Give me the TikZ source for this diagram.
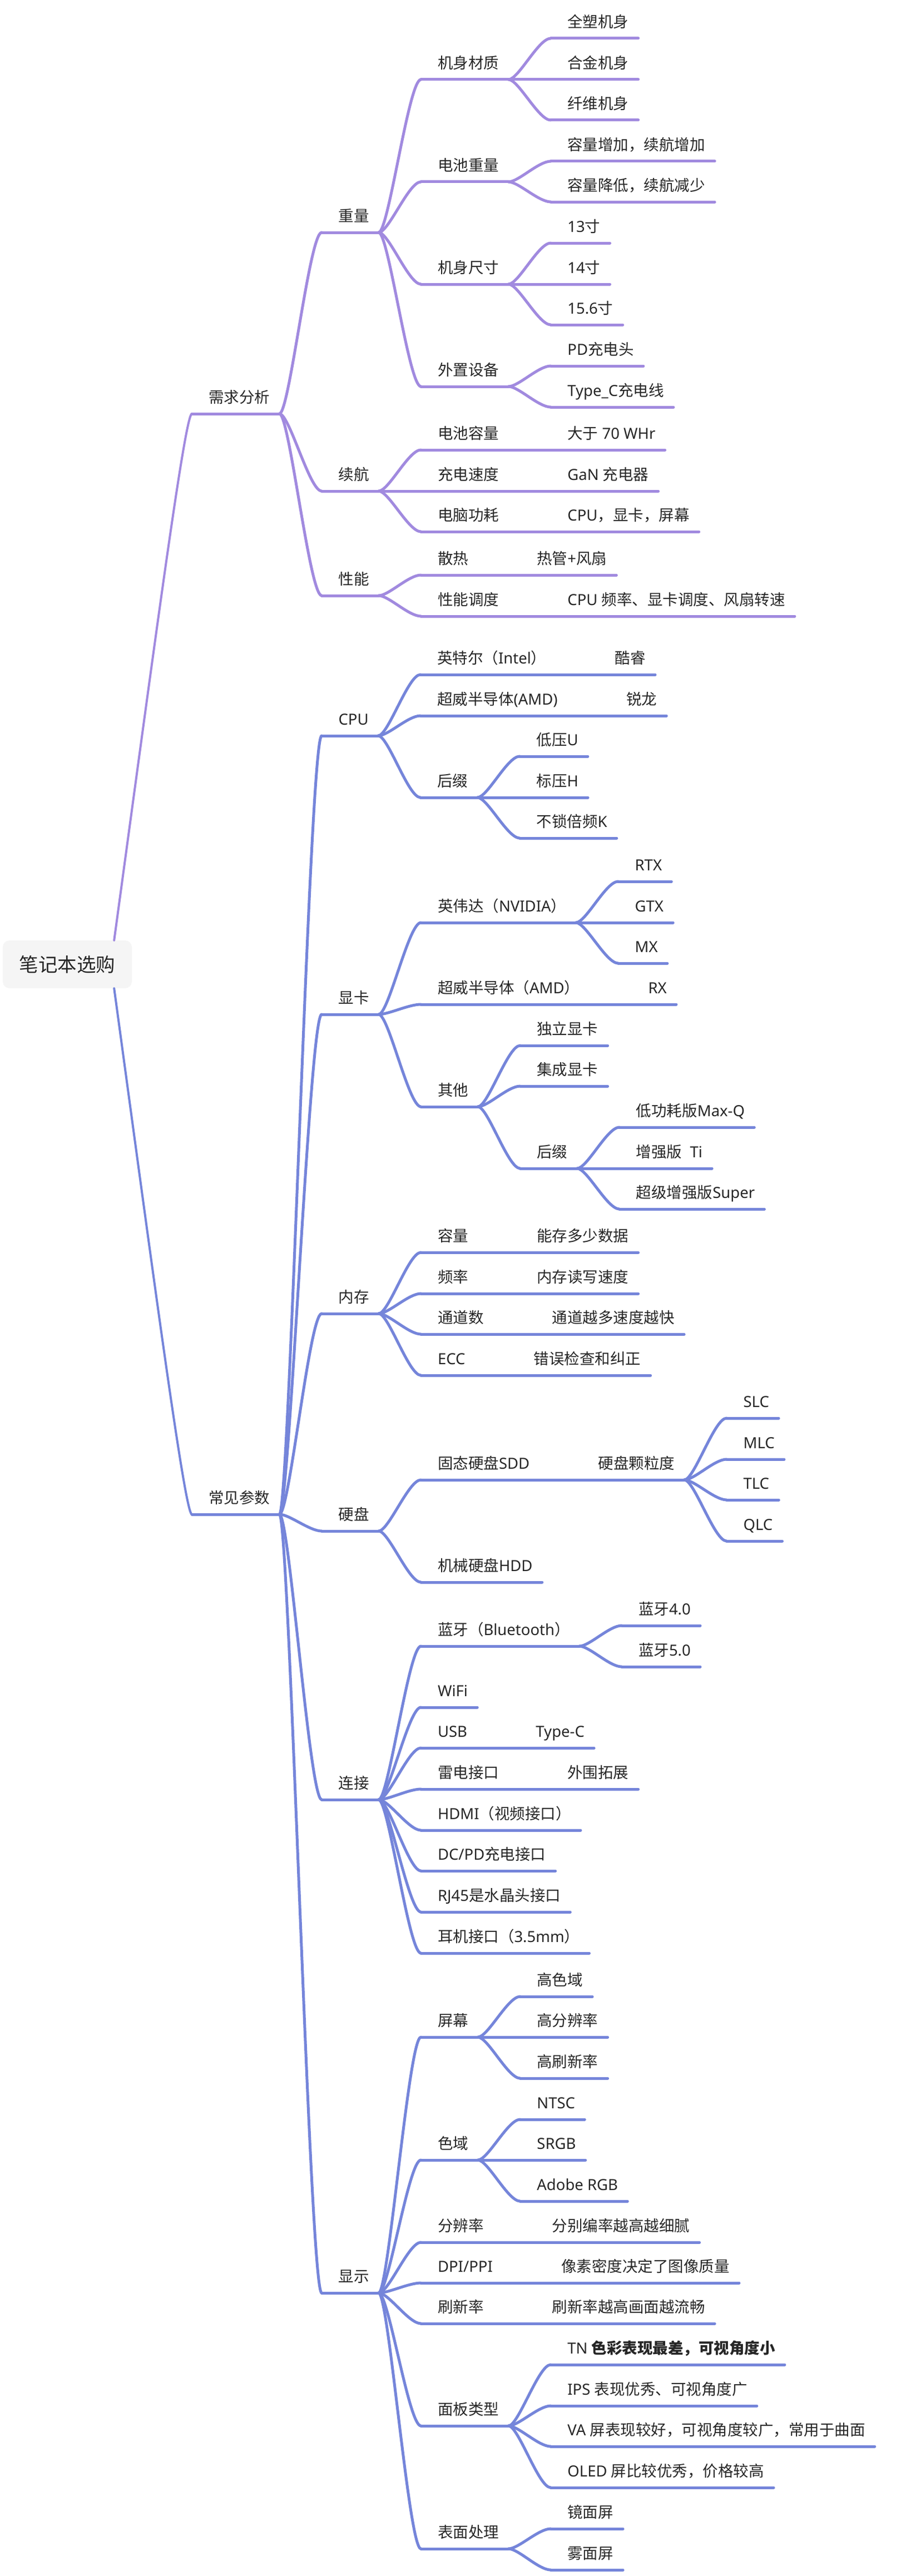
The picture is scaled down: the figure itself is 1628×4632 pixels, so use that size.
\documentclass[tikz,border=0pt]{standalone}
\usepackage{fontspec}
\setmainfont{Noto Sans}
\newfontfamily\cjkfont{Noto Sans CJK SC}
\usetikzlibrary{calc}

\definecolor{lilac}{HTML}{A18ADF}
\definecolor{cornflower}{HTML}{7585DA}
\definecolor{rootgray}{HTML}{F5F5F5}
\definecolor{ink}{HTML}{262626}

% Chinese characters are set in the CJK font
\makeatletter
\def\setcjkclass#1#2{\count@=#1 \loop\ifnum\count@<#2 \XeTeXcharclass\count@=1 \advance\count@\@ne\repeat}
\setcjkclass{"3000}{"3040}
\setcjkclass{"4E00}{"A000}
\setcjkclass{"FF00}{"FFF0}
\makeatother
\XeTeXinterchartoks 0 1 = {\begingroup\cjkfont}
\XeTeXinterchartoks 4095 1 = {\begingroup\cjkfont}
\XeTeXinterchartoks 1 0 = {\endgroup}
\XeTeXinterchartoks 1 4095 = {\endgroup}

\begin{document}
\XeTeXinterchartokenstate=1
\begin{tikzpicture}[x=1pt, y=-1pt,
	topic/.style={anchor=south west, inner sep=0pt, text depth=19pt, text height=22pt,
		font=\fontsize{27.5}{33}\selectfont, text=ink,
		execute at begin node={\hspace*{30pt}}, execute at end node={\hspace*{17pt}}},
	uline/.style={line width=5pt, line cap=round},
	link/.style={line width=5pt, line cap=round},
	rootlink/.style={line width=4pt, line cap=round},
	rootbox/.style={fill=rootgray, rounded corners=12pt, minimum width=232pt, minimum height=86pt,
		inner sep=0pt, font=\fontsize{34.5}{40}\selectfont, text=ink}]
	\useasboundingbox (0,0) rectangle (1628,4632);
	
	\node[rootbox] (root) at (121,1734) {笔记本选购};
	
	% 需求分析
	\node[topic] (xq) at (345,744) {需求分析};
	\node[topic] (zl) at ($(xq.south east)+(76,-326)$) {重量};
	\node[topic] (xh) at ($(xq.south east)+(76,139)$) {续航};
	\node[topic] (xn) at ($(xq.south east)+(76,327)$) {性能};
	
	\node[topic] (jscz) at ($(zl.south east)+(76,-275)$) {机身材质};
	\node[topic] (dczl) at ($(zl.south east)+(76,-91)$) {电池重量};
	\node[topic] (jscc) at ($(zl.south east)+(76,93)$) {机身尺寸};
	\node[topic] (wzsb) at ($(zl.south east)+(76,277)$) {外置设备};
	
	\node[topic] (qs) at ($(jscz.south east)+(76,-74)$) {全塑机身};
	\node[topic] (hj) at ($(jscz.south east)+(76,0)$) {合金机身};
	\node[topic] (xw) at ($(jscz.south east)+(76,73)$) {纤维机身};
	\node[topic] (rlzj) at ($(dczl.south east)+(76,-37)$) {容量增加，续航增加};
	\node[topic] (rljd) at ($(dczl.south east)+(76,36)$) {容量降低，续航减少};
	\node[topic] (c13) at ($(jscc.south east)+(76,-74)$) {13寸};
	\node[topic] (c14) at ($(jscc.south east)+(76,0)$) {14寸};
	\node[topic] (c156) at ($(jscc.south east)+(76,73)$) {15.6寸};
	\node[topic] (pdt) at ($(wzsb.south east)+(76,-37)$) {PD充电头};
	\node[topic] (typec) at ($(wzsb.south east)+(76,37)$) {Type\_C充电线};
	
	\node[topic] (dcrl) at ($(xh.south east)+(76,-74)$) {电池容量};
	\node[topic] (cdsd) at ($(xh.south east)+(76,0)$) {充电速度};
	\node[topic] (dngh) at ($(xh.south east)+(76,73)$) {电脑功耗};
	\node[topic] (dy70) at ($(dcrl.south east)+(76,0)$) {大于 70 WHr};
	\node[topic] (gan) at ($(cdsd.south east)+(76,0)$) {GaN 充电器};
	\node[topic] (cpuxk) at ($(dngh.south east)+(76,0)$) {CPU，显卡，屏幕};
	
	\node[topic] (sr) at ($(xn.south east)+(76,-37)$) {散热};
	\node[topic] (xndd) at ($(xn.south east)+(76,37)$) {性能调度};
	\node[topic] (rgfs) at ($(sr.south east)+(76,0)$) {热管+风扇};
	\node[topic] (ddnr) at ($(xndd.south east)+(76,0)$) {CPU 频率、显卡调度、风扇转速};
	
	% 常见参数
	\node[topic] (cj) at (345,2723) {常见参数};
	\node[topic] (cpu) at ($(cj.south east)+(76,-1400)$) {CPU};
	\node[topic] (xk) at ($(cj.south east)+(76,-899)$) {显卡};
	\node[topic] (nc) at ($(cj.south east)+(76,-361)$) {内存};
	\node[topic] (yp) at ($(cj.south east)+(76,30)$) {硬盘};
	\node[topic] (lj) at ($(cj.south east)+(76,513)$) {连接};
	\node[topic] (xs) at ($(cj.south east)+(76,1400)$) {显示};
	
	\node[topic] (intel) at ($(cpu.south east)+(76,-110)$) {英特尔（Intel）};
	\node[topic] (amd) at ($(cpu.south east)+(76,-36)$) {超威半导体(AMD)};
	\node[topic] (hz) at ($(cpu.south east)+(76,111)$) {后缀};
	\node[topic] (kr) at ($(intel.south east)+(76,0)$) {酷睿};
	\node[topic] (rlong) at ($(amd.south east)+(76,0)$) {锐龙};
	\node[topic] (dyu) at ($(hz.south east)+(76,-74)$) {低压U};
	\node[topic] (byh) at ($(hz.south east)+(76,0)$) {标压H};
	\node[topic] (bsk) at ($(hz.south east)+(76,73)$) {不锁倍频K};
	
	\node[topic] (nv) at ($(xk.south east)+(76,-165)$) {英伟达（NVIDIA）};
	\node[topic] (amdg) at ($(xk.south east)+(76,-18)$) {超威半导体（AMD）};
	\node[topic] (qt) at ($(xk.south east)+(76,166)$) {其他};
	\node[topic] (rtx) at ($(nv.south east)+(76,-74)$) {RTX};
	\node[topic] (gtx) at ($(nv.south east)+(76,0)$) {GTX};
	\node[topic] (mx) at ($(nv.south east)+(76,73)$) {MX};
	\node[topic] (rx) at ($(amdg.south east)+(76,0)$) {RX};
	\node[topic] (dlxk) at ($(qt.south east)+(76,-110)$) {独立显卡};
	\node[topic] (jcxk) at ($(qt.south east)+(76,-37)$) {集成显卡};
	\node[topic] (hzg) at ($(qt.south east)+(76,111)$) {后缀};
	\node[topic] (maxq) at ($(hzg.south east)+(76,-74)$) {低功耗版Max-Q};
	\node[topic] (ti) at ($(hzg.south east)+(76,0)$) {增强版~~Ti};
	\node[topic] (sup) at ($(hzg.south east)+(76,73)$) {超级增强版Super};
	
	\node[topic] (rlm) at ($(nc.south east)+(76,-110)$) {容量};
	\node[topic] (pl) at ($(nc.south east)+(76,-36)$) {频率};
	\node[topic] (tds) at ($(nc.south east)+(76,37)$) {通道数};
	\node[topic] (ecc) at ($(nc.south east)+(76,111)$) {ECC};
	\node[topic] (ncsj) at ($(rlm.south east)+(76,0)$) {能存多少数据};
	\node[topic] (dxsd) at ($(pl.south east)+(76,0)$) {内存读写速度};
	\node[topic] (tdyd) at ($(tds.south east)+(76,0)$) {通道越多速度越快};
	\node[topic] (cwjc) at ($(ecc.south east)+(76,0)$) {错误检查和纠正};
	
	\node[topic] (ssd) at ($(yp.south east)+(76,-92)$) {固态硬盘SDD};
	\node[topic] (hdd) at ($(yp.south east)+(76,92)$) {机械硬盘HDD};
	\node[topic] (kld) at ($(ssd.south east)+(76,0)$) {硬盘颗粒度};
	\node[topic] (slc) at ($(kld.south east)+(76,-111)$) {SLC};
	\node[topic] (mlc) at ($(kld.south east)+(76,-37)$) {MLC};
	\node[topic] (tlc) at ($(kld.south east)+(76,36)$) {TLC};
	\node[topic] (qlc) at ($(kld.south east)+(76,110)$) {QLC};
	
	\node[topic] (bt) at ($(lj.south east)+(76,-276)$) {蓝牙（Bluetooth）};
	\node[topic] (wifi) at ($(lj.south east)+(76,-166)$) {WiFi};
	\node[topic] (usb) at ($(lj.south east)+(76,-93)$) {USB};
	\node[topic] (ld) at ($(lj.south east)+(76,-19)$) {雷电接口};
	\node[topic] (hdmi) at ($(lj.south east)+(76,55)$) {HDMI（视频接口）};
	\node[topic] (dcpd) at ($(lj.south east)+(76,128)$) {DC/PD充电接口};
	\node[topic] (rj) at ($(lj.south east)+(76,202)$) {RJ45是水晶头接口};
	\node[topic] (ej) at ($(lj.south east)+(76,276)$) {耳机接口（3.5mm）};
	\node[topic] (bt4) at ($(bt.south east)+(76,-37)$) {蓝牙4.0};
	\node[topic] (bt5) at ($(bt.south east)+(76,37)$) {蓝牙5.0};
	\node[topic] (tyc) at ($(usb.south east)+(76,0)$) {Type-C};
	\node[topic] (wwtz) at ($(ld.south east)+(76,0)$) {外围拓展};
	
	\node[topic] (pm) at ($(xs.south east)+(76,-460)$) {屏幕};
	\node[topic] (sy) at ($(xs.south east)+(76,-239)$) {色域};
	\node[topic] (fbl) at ($(xs.south east)+(76,-91)$) {分辨率};
	\node[topic] (dpi) at ($(xs.south east)+(76,-18)$) {DPI/PPI};
	\node[topic] (sxl) at ($(xs.south east)+(76,55)$) {刷新率};
	\node[topic] (mb) at ($(xs.south east)+(76,239)$) {面板类型};
	\node[topic] (bm) at ($(xs.south east)+(76,460)$) {表面处理};
	\node[topic] (gsy) at ($(pm.south east)+(76,-73)$) {高色域};
	\node[topic] (gfb) at ($(pm.south east)+(76,0)$) {高分辨率};
	\node[topic] (gsx) at ($(pm.south east)+(76,74)$) {高刷新率};
	\node[topic] (ntsc) at ($(sy.south east)+(76,-73)$) {NTSC};
	\node[topic] (srgb) at ($(sy.south east)+(76,0)$) {SRGB};
	\node[topic] (adobe) at ($(sy.south east)+(76,74)$) {Adobe RGB};
	\node[topic] (fbxn) at ($(fbl.south east)+(76,0)$) {分别编率越高越细腻};
	\node[topic] (xmzl) at ($(dpi.south east)+(76,0)$) {像素密度决定了图像质量};
	\node[topic] (sxlc) at ($(sxl.south east)+(76,0)$) {刷新率越高画面越流畅};
	\node[topic] (tn) at ($(mb.south east)+(76,-110)$) {TN {\bfseries 色彩表现最差，可视角度小}};
	\node[topic] (ips) at ($(mb.south east)+(76,-36)$) {IPS 表现优秀、可视角度广};
	\node[topic] (va) at ($(mb.south east)+(76,37)$) {VA 屏表现较好，可视角度较广，常用于曲面};
	\node[topic] (oled) at ($(mb.south east)+(76,111)$) {OLED 屏比较优秀，价格较高};
	\node[topic] (jmp) at ($(bm.south east)+(76,-36)$) {镜面屏};
	\node[topic] (wmp) at ($(bm.south east)+(76,38)$) {雾面屏};
	
	% underlines
	\foreach \n in {xq,zl,xh,xn,jscz,dczl,jscc,wzsb,qs,hj,xw,rlzj,rljd,c13,c14,c156,pdt,typec,
		dcrl,cdsd,dngh,dy70,gan,cpuxk,sr,xndd,rgfs,ddnr}
		\draw[uline, lilac] (\n.south west) -- (\n.south east);
	\foreach \n in {cj,cpu,xk,nc,yp,lj,xs,intel,amd,hz,kr,rlong,dyu,byh,bsk,nv,amdg,qt,rtx,gtx,mx,rx,
		dlxk,jcxk,hzg,maxq,ti,sup,rlm,pl,tds,ecc,ncsj,dxsd,tdyd,cwjc,ssd,hdd,kld,slc,mlc,tlc,qlc,
		bt,wifi,usb,ld,hdmi,dcpd,rj,ej,bt4,bt5,tyc,wwtz,pm,sy,fbl,dpi,sxl,mb,bm,gsy,gfb,gsx,
		ntsc,srgb,adobe,fbxn,xmzl,sxlc,tn,ips,va,oled,jmp,wmp}
		\draw[uline, cornflower] (\n.south west) -- (\n.south east);
	
	% branches
	\draw[rootlink, lilac] ([xshift=-32pt]root.north east) .. controls +(75,-550) and +(-12,0) .. (xq.south west);
	\draw[rootlink, cornflower] ([xshift=-32pt]root.south east) .. controls +(75,550) and +(-12,0) .. (cj.south west);
	\foreach \p/\c in {xq/zl,xq/xh,xq/xn,zl/jscz,zl/dczl,zl/jscc,zl/wzsb,jscz/qs,jscz/hj,jscz/xw,
		dczl/rlzj,dczl/rljd,jscc/c13,jscc/c14,jscc/c156,wzsb/pdt,wzsb/typec,xh/dcrl,xh/cdsd,xh/dngh,
		dcrl/dy70,cdsd/gan,dngh/cpuxk,xn/sr,xn/xndd,sr/rgfs,xndd/ddnr}
		\draw[link, lilac] (\p.south east) .. controls +(18,0) and +(-22,0) .. (\c.south west);
	\foreach \p/\c in {cj/cpu,cj/xk,cj/nc,cj/yp,cj/lj,cj/xs,cpu/intel,cpu/amd,cpu/hz,intel/kr,amd/rlong,
		hz/dyu,hz/byh,hz/bsk,xk/nv,xk/amdg,xk/qt,nv/rtx,nv/gtx,nv/mx,amdg/rx,qt/dlxk,qt/jcxk,qt/hzg,
		hzg/maxq,hzg/ti,hzg/sup,nc/rlm,nc/pl,nc/tds,nc/ecc,rlm/ncsj,pl/dxsd,tds/tdyd,ecc/cwjc,
		yp/ssd,yp/hdd,ssd/kld,kld/slc,kld/mlc,kld/tlc,kld/qlc,lj/bt,lj/wifi,lj/usb,lj/ld,lj/hdmi,
		lj/dcpd,lj/rj,lj/ej,bt/bt4,bt/bt5,usb/tyc,ld/wwtz,xs/pm,xs/sy,xs/fbl,xs/dpi,xs/sxl,xs/mb,xs/bm,
		pm/gsy,pm/gfb,pm/gsx,sy/ntsc,sy/srgb,sy/adobe,fbl/fbxn,dpi/xmzl,sxl/sxlc,mb/tn,mb/ips,mb/va,
		mb/oled,bm/jmp,bm/wmp}
		\draw[link, cornflower] (\p.south east) .. controls +(18,0) and +(-22,0) .. (\c.south west);
\end{tikzpicture}
\end{document}
